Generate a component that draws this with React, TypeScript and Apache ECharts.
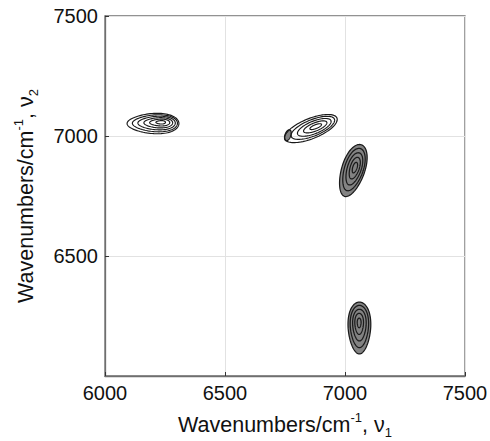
import React, { useEffect, useRef } from "react";
import * as echarts from "echarts";

// Axis ticks (wavenumbers, cm^-1)
const xTicks = [6000, 6500, 7000, 7500];
const yTicks = [6000, 6500, 7000, 7500];

// Contour rings per peak: [centre ν1, centre ν2, semi-major, semi-minor] (cm^-1), outer ring first
const peak1Rings = [
  [6200, 7052, 108, 42],
  [6208, 7053, 94, 35],
  [6215, 7054, 78, 28],
  [6222, 7055, 60, 21],
  [6228, 7056, 42, 14],
  [6232, 7057, 20, 7],
];
const peak1Angle = 0;
const peak1Egg = 0.18;

const peak2Rings = [
  [6858, 7031, 117, 42],
  [6866, 7034, 97, 34],
  [6872, 7036, 75, 26],
  [6876, 7038, 52, 17],
  [6878, 7039, 26, 8],
];
const peak2Angle = 22;
const peak2Egg = 0;

const peak3Rings = [
  [7033, 6856, 113, 48],
  [7036, 6860, 92, 39],
  [7038, 6863, 70, 29],
  [7040, 6866, 47, 19],
  [7041, 6868, 23, 9],
];
const peak3Angle = 72;
const peak3Egg = 0.08;

const peak4Rings = [
  [7060, 6200, 108, 47],
  [7060, 6206, 88, 38],
  [7060, 6212, 66, 28],
  [7059, 6217, 44, 18],
  [7059, 6221, 20, 8],
];
const peak4Angle = 90;
const peak4Egg = 0.15;

// small negative patch at the left tip of peak 2
const patchRings = [[6762, 7003, 24, 12]];
const patchAngle = 70;
const patchEgg = 0;

const GRAY = "#838383";

function buildData(rings: number[][], angle: number, egg: number, filled: number) {
  return rings.map((r) => [r[0], r[1], r[2], r[3], angle, egg, filled]);
}

export default function App() {
  const ref = useRef<HTMLDivElement>(null);

  useEffect(() => {
    if (!ref.current) return;
    const chart = echarts.init(ref.current, null, { renderer: "svg" });

    const data = [
      ...buildData(patchRings, patchAngle, patchEgg, 1),
      ...buildData(peak1Rings, peak1Angle, peak1Egg, 0),
      ...buildData(peak2Rings, peak2Angle, peak2Egg, 0),
      ...buildData(peak3Rings, peak3Angle, peak3Egg, 1),
      ...buildData(peak4Rings, peak4Angle, peak4Egg, 1),
    ];

    const font = "Liberation Sans, Arial, sans-serif";

    const renderItem = (params: any, api: any) => {
      const cx = api.value(0);
      const cy = api.value(1);
      const a = api.value(2);
      const b = api.value(3);
      const ang = (api.value(4) * Math.PI) / 180;
      const egg = api.value(5);
      const filled = api.value(6);
      const pts: number[][] = [];
      const n = 90;
      for (let i = 0; i < n; i++) {
        const t = (i / n) * Math.PI * 2;
        const u = a * Math.cos(t);
        const v = b * Math.sin(t) * (1 + egg * Math.cos(t));
        const X = cx + u * Math.cos(ang) - v * Math.sin(ang);
        const Y = cy + u * Math.sin(ang) + v * Math.cos(ang);
        pts.push(api.coord([X, Y]));
      }
      return {
        type: "polygon",
        shape: { points: pts },
        style: {
          fill: filled ? GRAY : "none",
          stroke: "#1a1a1a",
          lineWidth: filled ? 1.25 : 1.15,
        },
      };
    };

    const axisCommon = {
      type: "value",
      min: 6000,
      max: 7500,
      interval: 500,
      axisLine: { show: true, lineStyle: { color: "#6f6f6f", width: 1.3 } },
      axisTick: { show: true, inside: true, length: 4, lineStyle: { color: "#333" } },
      splitLine: { show: true, lineStyle: { color: "#e2e2e2", width: 1 } },
      nameLocation: "middle",
    };

    const richName = {
      m: { fontSize: 21.5, lineHeight: 28, color: "#111", fontFamily: font },
      s: { fontSize: 13, lineHeight: 14, verticalAlign: "top", color: "#111", fontFamily: font },
      b: { fontSize: 13, lineHeight: 12, verticalAlign: "bottom", color: "#111", fontFamily: font },
    };

    chart.setOption({
      animation: false,
      backgroundColor: "#ffffff",
      grid: {
        left: 105,
        top: 16,
        width: 360,
        height: 360,
        show: true,
        borderColor: "#6f6f6f",
        borderWidth: 1.3,
        backgroundColor: "transparent",
        containLabel: false,
        outerBoundsMode: "none",
      },
      xAxis: {
        ...axisCommon,
        axisLabel: {
          fontSize: 20,
          color: "#111",
          fontFamily: font,
          margin: 7,
          formatter: (v: number) => (xTicks.includes(v) ? String(v) : ""),
        },
        name: "{m|Wavenumbers/cm}{s|-1}{m|, ν}{b|1}",
        nameGap: 35,
        nameTextStyle: { rich: richName },
      },
      yAxis: {
        ...axisCommon,
        axisLabel: {
          fontSize: 20,
          color: "#111",
          fontFamily: font,
          margin: 7,
          showMinLabel: false,
          formatter: (v: number) => (yTicks.includes(v) && v !== 6000 ? String(v) : ""),
        },
        name: "{m|Wavenumbers/cm}{s|-1}{m|, ν}{b|2}",
        nameGap: 65,
        nameTextStyle: { rich: richName },
      },
      series: [
        {
          type: "custom",
          coordinateSystem: "cartesian2d",
          renderItem,
          data,
          encode: { x: 0, y: 1 },
          clip: true,
        },
      ],
    });

    return () => chart.dispose();
  }, []);

  return (
    <div
      ref={ref}
      style={{ position: "absolute", left: 0, top: 0, width: 490, height: 441 }}
    />
  );
}
